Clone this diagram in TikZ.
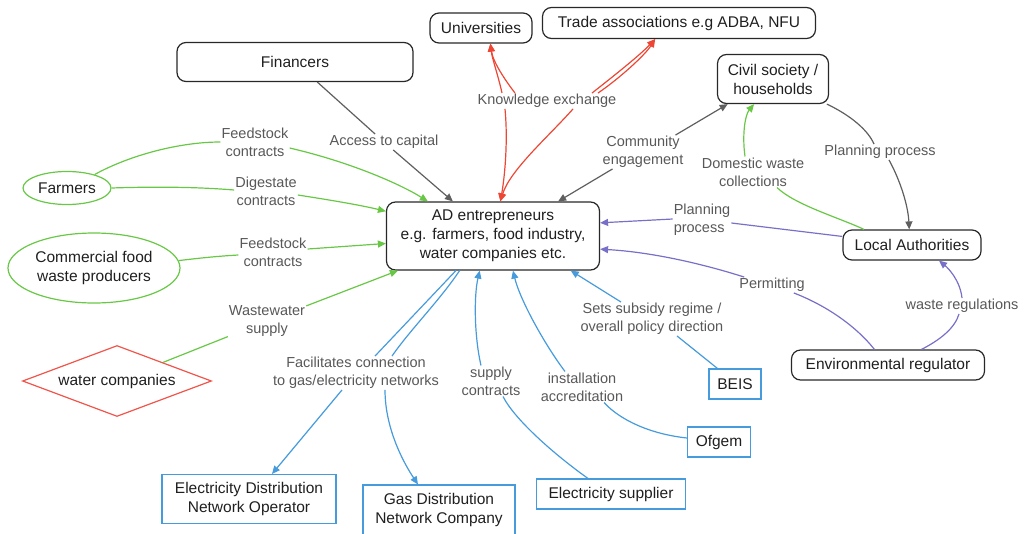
\documentclass[tikz,border=0pt]{standalone}
\usepackage{fontspec}
\setmainfont{Liberation Sans}
\usetikzlibrary{arrows.meta,shapes.geometric,calc}
\definecolor{cgreen}{RGB}{104,200,70}
\definecolor{cblue}{RGB}{70,155,220}
\definecolor{cpurple}{RGB}{120,112,200}
\definecolor{cred}{RGB}{238,70,52}
\definecolor{cgrayl}{RGB}{95,95,95}
\definecolor{labc}{RGB}{88,88,88}
\definecolor{boxc}{RGB}{40,40,40}
\definecolor{diamc}{RGB}{240,85,75}
\begin{document}
\begin{tikzpicture}[x=1pt,y=-1pt,
  every node/.style={font=\fontsize{15.5}{19}\selectfont, text=black!88},
  box/.style={draw=boxc, line width=1.2pt, rounded corners=9pt, inner sep=0pt, align=center},
  bluebox/.style={draw=cblue, line width=1.1pt, inner sep=0pt, align=center},
  ell/.style={ellipse, draw=cgreen, line width=1.2pt, inner sep=0pt, align=center},
  diam/.style={diamond, shape aspect=2.66, draw=diamc, line width=1.2pt, inner sep=0pt, align=center},
  lbl/.style={font=\fontsize{14.5}{18}\selectfont, text=labc, inner sep=1pt, align=center},
  arr/.style={-{Triangle[length=8pt,width=7pt]}},
  gl/.style={draw=cgreen, line width=1.2pt},
  bl/.style={draw=cblue, line width=1.2pt},
  pl/.style={draw=cpurple, line width=1.2pt},
  rl/.style={draw=cred, line width=1.2pt},
  kl/.style={draw=cgrayl, line width=1.2pt}]
\useasboundingbox (0,0) rectangle (1024,533);

% nodes
\node[box, minimum width=236pt, minimum height=39pt] (Fin) at (295,62) {Financers};
\node[box, minimum width=102pt, minimum height=30pt] (Uni) at (481,28) {Universities};
\node[box, minimum width=273pt, minimum height=31pt] (Trade) at (679,23) {Trade associations e.g ADBA, NFU};
\node[box, minimum width=111pt, minimum height=49pt] (CS) at (773,79) {Civil society /\\households};
\node[ell, minimum width=88pt, minimum height=33pt] (Farm) at (67,188) {Farmers};
\node[ell, minimum width=172pt, minimum height=70pt] (Comm) at (94,268) {Commercial food\\waste producers};
\node[box, minimum width=213pt, minimum height=68pt] (AD) at (493,236) {AD entrepreneurs\\e.g. farmers, food industry,\\water companies etc.};
\node[box, minimum width=138pt, minimum height=30pt] (LA) at (912,245) {Local Authorities};
\node[diam, minimum width=189pt, minimum height=71pt] (wc) at (117,381) {water companies};
\node[box, minimum width=193pt, minimum height=30pt] (ER) at (888,365) {Environmental regulator};
\node[bluebox, minimum width=52pt, minimum height=30pt] (BEIS) at (735,384) {BEIS};
\node[bluebox, minimum width=63pt, minimum height=30pt] (Ofgem) at (719,442) {Ofgem};
\node[bluebox, minimum width=149pt, minimum height=30pt] (ES) at (611,494) {Electricity supplier};
\node[bluebox, minimum width=174pt, minimum height=49pt] (EDNO) at (249,499) {Electricity Distribution\\Network Operator};
\node[bluebox, minimum width=152pt, minimum height=50pt] (Gas) at (439,510) {Gas Distribution\\Network Company};

% labels
\node[lbl] (lAcc) at (384,142) {Access to capital};
\node[lbl] (lFeed1) at (255,142) {Feedstock\\contracts};
\node[lbl] (lDig) at (266,191) {Digestate\\contracts};
\node[lbl] (lFeed2) at (273,252) {Feedstock\\contracts};
\node[lbl] (lWaste) at (267,321) {Wastewater\\supply};
\node[lbl] (lFac) at (356,373) {Facilitates connection\\to gas/electricity networks};
\node[lbl] (lSup) at (491,381) {supply\\contracts};
\node[lbl] (lInst) at (582,387) {installation\\accreditation};
\node[lbl] (lSets) at (652,319) {Sets subsidy regime /\\overall policy direction};
\node[lbl] (lPerm) at (772,285) {Permitting};
\node[lbl] (lWR) at (962,306) {waste regulations};
\node[lbl, align=left] (lPP1) at (702,220) {Planning\\process};
\node[lbl] (lDWC) at (753,172) {Domestic waste\\collections};
\node[lbl] (lPP2) at (880,152) {Planning process};
\node[lbl] (lCE) at (643,152) {Community\\engagement};
\node[lbl] (lKE) at (547,101) {Knowledge exchange};

% Financers
\draw[kl] (Fin) -- (lAcc);
\draw[kl, arr] (lAcc) -- (AD);

% Farmers / commercial / water (green)
\draw[gl] (Farm.26) .. controls (130,155) and (180,142) .. (lFeed1.west);
\draw[gl, arr] ($(lFeed1.east)+(0,6)$) .. controls (350,162) and (400,184) .. (AD.152);
\draw[gl] (Farm.east) .. controls (170,186) and (210,188) .. ($(lDig.west)+(0,-1)$);
\draw[gl, arr] ($(lDig.east)+(0,4)$) .. controls (330,200) and (360,205) .. (AD.167);
\draw[gl] (Comm.5) .. controls (200,258) and (220,256) .. ($(lFeed2.west)+(0,3)$);
\draw[gl, arr] ($(lFeed2.east)+(0,-3)$) -- (AD.184);
\draw[gl] (wc.22) -- (lWaste);
\draw[gl, arr] (lWaste) -- (AD.200);

% blue
\draw[bl] (AD.-137) -- ($(lFac.north)+(19,0)$);
\draw[bl, arr] ($(lFac.south)+(-14,0)$) -- ($(EDNO.north)+(23,0)$);
\draw[bl] (AD.-134) .. controls (440,300) and (410,330) .. ($(lFac.north)+(36,0)$);
\draw[bl, arr] ($(lFac.south)+(29,0)$) .. controls (385,430) and (405,465) .. ($(Gas.north)+(-21,0)$);
\draw[bl] ($(ES.north)+(-23,0)$) .. controls (555,455) and (515,420) .. ($(lSup.south)+(12,0)$);
\draw[bl, arr] ($(lSup.north)+(-10,0)$) .. controls (474,335) and (474,295) .. (AD.-111);
\draw[bl] ($(Ofgem.west)+(0,-4)$) .. controls (650,434) and (620,420) .. ($(lInst.south)+(22,0)$);
\draw[bl, arr] ($(lInst.north)+(-17,0)$) .. controls (545,345) and (520,300) .. (AD.-60);
\draw[bl] ($(BEIS.north west)+(9,0)$) -- ($(lSets.south)+(25,0)$);
\draw[bl, arr] ($(lSets.north)+(-31,0)$) -- (AD.-24);

% purple
\draw[pl] (ER.131) .. controls (855,325) and (825,305) .. ($(lPerm.south east)+(-12,0)$);
\draw[pl, arr] ($(lPerm.north west)+(6,0)$) .. controls (700,263) and (650,252) .. (AD.-7);
\draw[pl] (ER.25) .. controls (940,340) and (955,328) .. ($(lWR.south)+(-3,0)$);
\draw[pl, arr] (lWR.north) .. controls (960,280) and (948,268) .. (LA.-30);
\draw[pl] (LA.173) -- ($(lPP1.east)+(0,3)$);
\draw[pl, arr] ($(lPP1.west)+(0,-1)$) -- (AD.7);

% local authorities / civil society
\draw[gl] (LA.162) .. controls (840,218) and (795,205) .. ($(lDWC.south)+(24,0)$);
\draw[gl, arr] ($(lDWC.north)+(-8,0)$) .. controls (742,135) and (745,115) .. (CS.-127);
\draw[kl] (CS.-25) .. controls (850,115) and (868,130) .. ($(lPP2.north)+(-6,0)$);
\draw[kl, arr] ($(lPP2.south)+(9,0)$) .. controls (900,180) and (908,205) .. (LA.100);
\draw[kl, arr] ($(lCE.south west)+(11,0)$) -- (AD.28);
\draw[kl, arr] ($(lCE.north east)+(-9,0)$) -- (CS.-151);

% knowledge exchange (red)
\draw[rl, arr] ($(lKE.south)+(-42,0)$) .. controls (508,140) and (505,175) .. (AD.78);
\draw[rl, arr] ($(lKE.south)+(26,0)$) .. controls (550,135) and (510,170) .. (AD.78);
\draw[rl, arr] ($(lKE.north)+(-45,0)$) .. controls (498,75) and (492,58) .. (Uni.-59);
\draw[rl, arr] ($(lKE.north)+(-32,0)$) .. controls (505,80) and (493,62) .. (Uni.-59);
\draw[rl, arr] ($(lKE.north)+(45,0)$) .. controls (615,75) and (640,55) .. (Trade.-146);
\draw[rl, arr] ($(lKE.north)+(51,0)$) .. controls (620,78) and (645,55) .. (Trade.-146);
\end{tikzpicture}
\end{document}
